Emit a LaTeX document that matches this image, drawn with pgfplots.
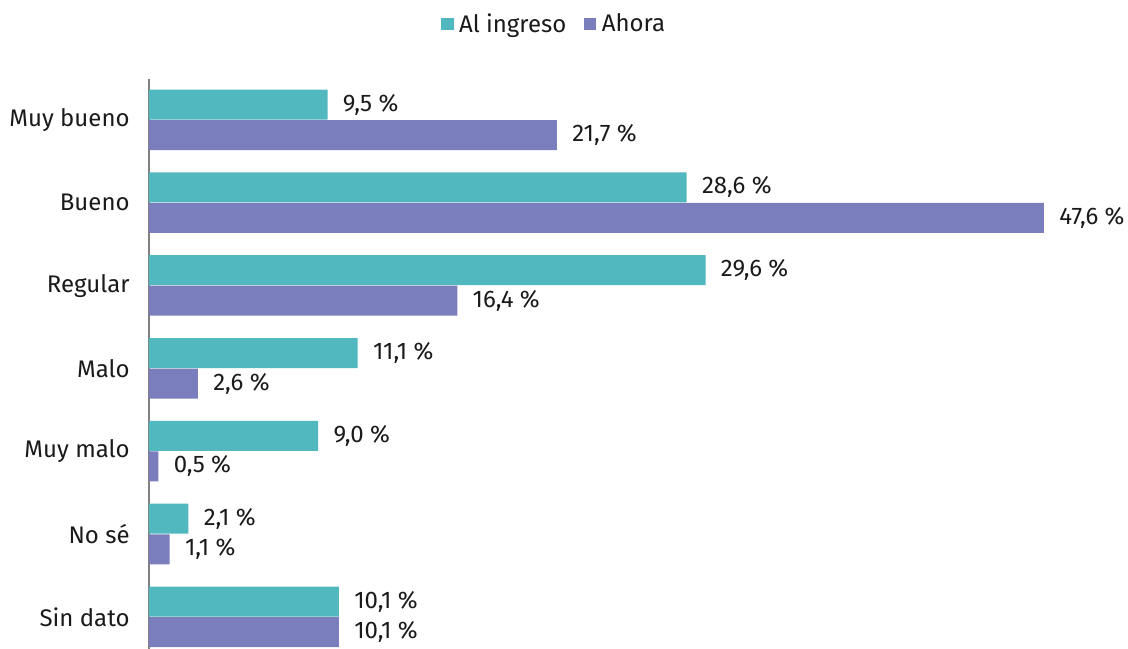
\documentclass[border=0pt]{standalone}
\usepackage{fontspec}
\setmainfont{Fira Sans}
\usepackage{pgfplots}
\pgfplotsset{compat=1.18}
\usetikzlibrary{calc}
\definecolor{cteal}{RGB}{80,184,190}
\definecolor{cpurp}{RGB}{122,126,189}
\definecolor{ctext}{RGB}{26,26,26}
\begin{document}
\begin{tikzpicture}[font=\fontsize{18}{21}\selectfont, text=ctext]
\begin{axis}[
  name=ax,
  scale only axis,
  width=734.25pt, height=427.5pt,
  xmin=0, xmax=52.07,
  ymin=-0.386, ymax=6.495,
  axis x line=none,
  axis y line*=left,
  y axis line style={draw={rgb,255:red,128;green,128;blue,128}, line width=1pt},
  ytick={0,1,2,3,4,5,6},
  yticklabels={Sin dato,No sé,Muy malo,Malo,Regular,Bueno,Muy bueno},
  major tick length=0pt,
  yticklabel style={font=\fontsize{18}{21}\selectfont, text=ctext, xshift=-11pt},
  xbar, bar width=22.5pt,
  clip=false,
  /pgf/number format/assume math mode=true,
  nodes near coords={\pgfmathprintnumber[fixed,fixed zerofill,precision=1,use comma]{\pgfplotspointmeta}~\%},
  point meta=x,
  every node near coord/.append style={font=\fontsize{18}{21}\selectfont, text=ctext, anchor=west, xshift=8pt},
  legend columns=2,
  legend style={draw=none, fill=none, at={(0.414,1.0965)}, anchor=center,
    font=\fontsize{18}{21}\selectfont, text=ctext,
    /tikz/every odd column/.append style={column sep=2pt},
    /tikz/every even column/.append style={column sep=11pt}},
  legend image code/.code={\fill[#1] (0pt,-4.8pt) rectangle (9.6pt,4.8pt);},
]
\addplot[fill=cteal, draw=none, bar shift=11.6pt] coordinates {
  (9.5,6) (28.6,5) (29.6,4) (11.1,3) (9.0,2) (2.1,1) (10.1,0)};
\addlegendentry{Al ingreso}
\addplot[fill=cpurp, draw=none, bar shift=-11.3pt] coordinates {
  (21.7,6) (47.6,5) (16.4,4) (2.6,3) (0.5,2) (1.1,1) (10.1,0)};
\addlegendentry{Ahora}
\end{axis}
\pgfresetboundingbox
\path ($(ax.south west)+(-111.75pt,0)$) rectangle ($(ax.north east)+(0,59.25pt)$);
\end{tikzpicture}
\end{document}
